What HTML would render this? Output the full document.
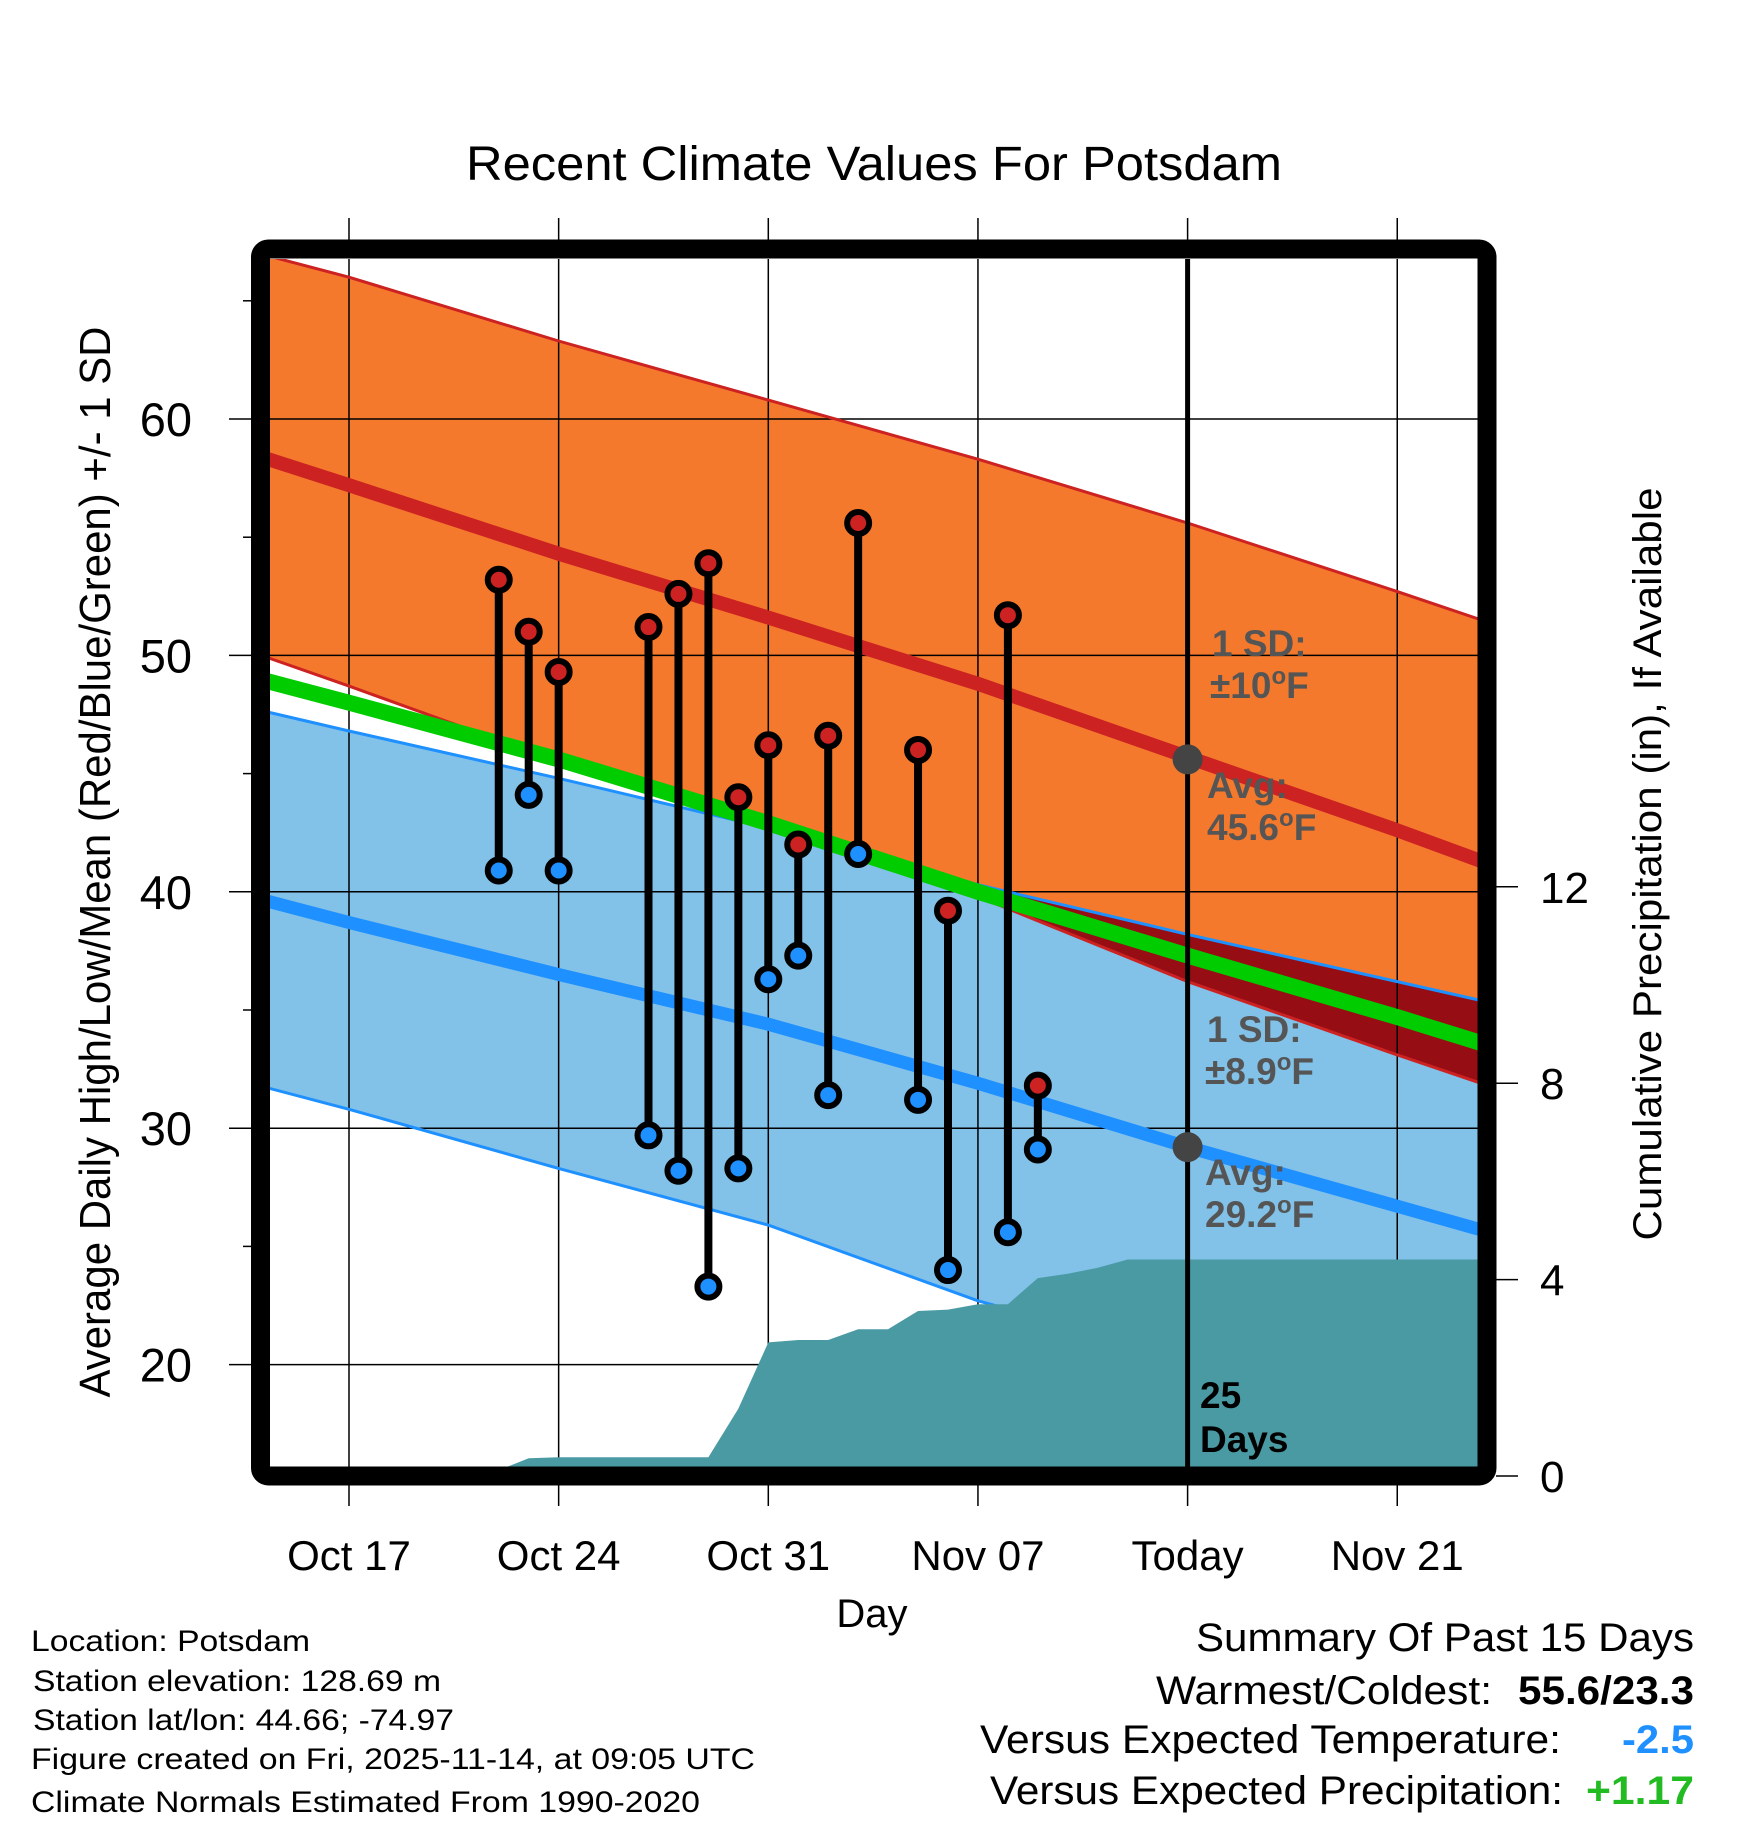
<!DOCTYPE html>
<html><head><meta charset="utf-8">
<style>
html,body{margin:0;padding:0;background:#fff;}
svg{display:block;font-family:"Liberation Sans",sans-serif;}
</style></head>
<body>
<svg id="chart" width="1748" height="1828" viewBox="0 0 1748 1828" xmlns="http://www.w3.org/2000/svg">
<defs>
<clipPath id="plotClip"><rect x="270" y="259" width="1208" height="1208"/></clipPath>
<clipPath id="blueClip"><path id="blueClipPath" d=""/></clipPath>
</defs>
<rect width="1748" height="1828" fill="#fff"/>
<text x="874" y="180" font-size="48" text-anchor="middle" textLength="816" lengthAdjust="spacingAndGlyphs">Recent Climate Values For Potsdam</text>
<g id="plot" clip-path="url(#plotClip)"></g>
<g id="axes"></g>
<rect x="260.5" y="249" width="1226.5" height="1227" rx="8" fill="none" stroke="#000" stroke-width="19"/>
<text transform="translate(110,862) rotate(-90)" font-size="44" text-anchor="middle" textLength="1071" lengthAdjust="spacingAndGlyphs">Average Daily High/Low/Mean (Red/Blue/Green) +/- 1 SD</text>
<text transform="translate(1661,864) rotate(-90)" font-size="40" text-anchor="middle" textLength="753" lengthAdjust="spacingAndGlyphs">Cumulative Precipitation (in), If Available</text>
<text x="872" y="1627" font-size="40" text-anchor="middle">Day</text>
<g font-size="30">
<text x="31" y="1651" textLength="279" lengthAdjust="spacingAndGlyphs">Location: Potsdam</text>
<text x="33" y="1691" textLength="408" lengthAdjust="spacingAndGlyphs">Station elevation: 128.69 m</text>
<text x="33" y="1730" textLength="421" lengthAdjust="spacingAndGlyphs">Station lat/lon: 44.66; -74.97</text>
<text x="31" y="1769" textLength="724" lengthAdjust="spacingAndGlyphs">Figure created on Fri, 2025-11-14, at 09:05 UTC</text>
<text x="31" y="1812" textLength="669" lengthAdjust="spacingAndGlyphs">Climate Normals Estimated From 1990-2020</text>
</g>
<g font-size="40">
<text x="1196" y="1651" textLength="498" lengthAdjust="spacingAndGlyphs">Summary Of Past 15 Days</text>
<text x="1156" y="1704" textLength="336" lengthAdjust="spacingAndGlyphs">Warmest/Coldest:</text>
<text x="1518" y="1704" font-weight="bold" textLength="176" lengthAdjust="spacingAndGlyphs">55.6/23.3</text>
<text x="980" y="1753" textLength="581" lengthAdjust="spacingAndGlyphs">Versus Expected Temperature:</text>
<text x="1622" y="1753" font-weight="bold" fill="#1e90ff" textLength="72" lengthAdjust="spacingAndGlyphs">-2.5</text>
<text x="990" y="1804" textLength="573" lengthAdjust="spacingAndGlyphs">Versus Expected Precipitation:</text>
<text x="1586" y="1804" font-weight="bold" fill="#22bb22" textLength="108" lengthAdjust="spacingAndGlyphs">+1.17</text>
</g>
</svg>
<script>
// ---- data (day index: 0 = Oct 17) ----
const normDays = [-2.7, 0, 7, 14, 21, 28, 35, 37.8];
const hiUpper  = [66.9, 66.0, 63.3, 60.8, 58.3, 55.6, 52.7, 51.5];
const hiMean   = [58.3, 57.2, 54.3, 51.6, 48.8, 45.7, 42.6, 41.3];
const hiLower  = [49.9, 48.7, 45.5, 42.7, 39.8, 36.2, 33.1, 31.9];
const loUpper  = [47.6, 46.8, 44.8, 42.7, 40.3, 38.2, 36.2, 35.4];
const loMean   = [39.6, 38.7, 36.5, 34.4, 31.9, 29.2, 26.7, 25.7];
const loLower  = [31.7, 30.8, 28.3, 25.9, 22.7, 20.3, 17.9, 16.8];
const avgMean  = [48.9, 48.0, 45.6, 42.9, 40.0, 37.3, 34.7, 33.6];
const obsDays  = [5, 6, 7, 10, 11, 12, 13, 14, 15, 16, 17, 19, 20, 22, 23];
const obsHigh  = [53.2, 51.0, 49.3, 51.2, 52.6, 53.9, 44.0, 46.2, 42.0, 46.6, 55.6, 46.0, 39.2, 51.7, 31.8];
const obsLow   = [40.9, 44.1, 40.9, 29.7, 28.2, 23.3, 28.3, 36.3, 37.3, 31.4, 41.6, 31.2, 24.0, 25.6, 29.1];
const precDays = [-2.7, 4.5, 6, 7, 12, 13, 14, 15, 16, 17, 18, 19, 20, 21, 22, 23, 24, 25, 26, 37.8];
const precVals = [0, 0, 0.36, 0.38, 0.38, 1.37, 2.72, 2.77, 2.77, 2.99, 2.99, 3.36, 3.39, 3.5, 3.5, 4.03, 4.12, 4.24, 4.41, 4.41];
const xTickDays = [0, 7, 14, 21, 28, 35];
const xTickLabels = ["Oct 17", "Oct 24", "Oct 31", "Nov 07", "Today", "Nov 21"];
const yTicks = [20, 30, 40, 50, 60];
const yMinor = [25, 35, 45, 55, 65];
const pTicks = [0, 4, 8, 12];
const todayDay = 28;
const todayHi = 45.6, todayLo = 29.2;

// ---- axes ----
const X = d => 349 + 29.95 * d;
const Y = v => 419 + (60 - v) * 23.64;
const P = v => 1476 - v * 49.1;
const NS = "http://www.w3.org/2000/svg";
function mk(tag, attrs, parent) {
  const e = document.createElementNS(NS, tag);
  for (const k in attrs) e.setAttribute(k, attrs[k]);
  parent.appendChild(e); return e;
}
const plot = document.getElementById('plot');
const axes = document.getElementById('axes');
function linePath(days, vals, sc) { return days.map((d, i) => (i ? 'L' : 'M') + X(d).toFixed(1) + ' ' + sc(vals[i]).toFixed(1)).join(' '); }
function bandPath(days, top, bot) {
  let s = linePath(days, top, Y);
  for (let i = days.length - 1; i >= 0; i--) s += ' L' + X(days[i]).toFixed(1) + ' ' + Y(bot[i]).toFixed(1);
  return s + ' Z';
}
let e;
e = mk('path', {d: bandPath(normDays, hiUpper, hiLower), fill: '#f5792d'}, plot);


e = mk('path', {d: bandPath(normDays, loUpper, loLower), fill: '#82c1e8'}, plot);


document.getElementById('blueClipPath').setAttribute('d', bandPath(normDays, loUpper, loLower));
e = mk('path', {d: bandPath(normDays, hiUpper, hiLower), fill: '#960e14', 'clip-path': 'url(#blueClip)'}, plot);


xTickDays.forEach(d => { mk('line', {x1: X(d), x2: X(d), y1: 259, y2: 1467, stroke: '#000', 'stroke-width': 1.5}, plot); });
yTicks.forEach(v => { mk('line', {x1: 270, x2: 1478, y1: Y(v), y2: Y(v), stroke: '#000', 'stroke-width': 1.5}, plot); });
[[hiUpper, '#cc2222'], [hiLower, '#cc2222'], [loUpper, '#1e90ff'], [loLower, '#1e90ff']].forEach(([arr, c]) => {
  const l = mk('path', {d: linePath(normDays, arr, Y), fill: 'none', stroke: c, 'stroke-width': 3}, plot);
  
  
});
e = mk('path', {d: linePath(normDays, hiMean, Y), fill: 'none', stroke: '#cc2222', 'stroke-width': 14}, plot);


e = mk('path', {d: linePath(normDays, loMean, Y), fill: 'none', stroke: '#1e90ff', 'stroke-width': 13}, plot);


e = mk('path', {d: linePath(normDays, avgMean, Y), fill: 'none', stroke: '#00cc00', 'stroke-width': 16}, plot);


let pp = linePath(precDays, precVals, P) + ' L' + X(precDays[precDays.length - 1]) + ' 1480 L' + X(precDays[0]) + ' 1480 Z';
e = mk('path', {d: pp, fill: '#4a9aa4'}, plot);


e = mk('line', {x1: X(todayDay), x2: X(todayDay), y1: 259, y2: 1467, stroke: '#000', 'stroke-width': 5}, plot);


obsDays.forEach((d, i) => {
  const g = mk('g', {}, plot);
  
  
  mk('line', {x1: X(d), x2: X(d), y1: Y(obsHigh[i]), y2: Y(obsLow[i]), stroke: '#000', 'stroke-width': 8}, g);
  const h = mk('circle', {cx: X(d), cy: Y(obsHigh[i]), r: 11, fill: '#cc2222', stroke: '#000', 'stroke-width': 6}, g);
  
  
  const lw = mk('circle', {cx: X(d), cy: Y(obsLow[i]), r: 11, fill: '#1e90ff', stroke: '#000', 'stroke-width': 6}, g);
  
  
});
e = mk('circle', {cx: X(todayDay), cy: Y(todayHi), r: 15, fill: '#444'}, plot);


e = mk('circle', {cx: X(todayDay), cy: Y(todayLo), r: 15, fill: '#444'}, plot);


const ann = [
  ['1 SD:', '', 1212, 656, '#555'], ['±10', 'F', 1210, 698, '#555'],
  ['Avg:', '', 1207, 798, '#555'], ['45.6', 'F', 1207, 840, '#555'],
  ['1 SD:', '', 1207, 1042, '#555'], ['±8.9', 'F', 1205, 1084, '#555'],
  ['Avg:', '', 1205, 1185, '#555'], ['29.2', 'F', 1205, 1227, '#555'],
  ['25', '', 1200, 1408, '#000'], ['Days', '', 1200, 1452, '#000']
];
ann.forEach(a => {
  const t = mk('text', {x: a[2], y: a[3], fill: a[4], 'font-size': 37, 'font-weight': 'bold'}, plot);
  
  
  t.appendChild(document.createTextNode(a[0]));
  if (a[1]) {
    const s = mk('tspan', {'font-size': 24, dy: -14}, t); s.textContent = 'o';
    const f = mk('tspan', {'font-size': 37, dy: 14}, t); f.textContent = a[1];
  }
});
xTickDays.forEach((d, i) => {
  mk('line', {x1: X(d), x2: X(d), y1: 218, y2: 241, stroke: '#000', 'stroke-width': 1.5}, axes);
  mk('line', {x1: X(d), x2: X(d), y1: 1484, y2: 1506, stroke: '#000', 'stroke-width': 1.5}, axes);
  const t = mk('text', {x: X(d), y: 1570, 'font-size': 42, 'text-anchor': 'middle'}, axes);
  t.textContent = xTickLabels[i];
  
  
});
yTicks.forEach(v => {
  mk('line', {x1: 229, x2: 252, y1: Y(v), y2: Y(v), stroke: '#000', 'stroke-width': 1.5}, axes);
  const t = mk('text', {x: 192, y: Y(v) + 17, 'font-size': 47, 'text-anchor': 'end'}, axes);
  t.textContent = v;
  
  
});
yMinor.forEach(v => { mk('line', {x1: 243, x2: 252, y1: Y(v), y2: Y(v), stroke: '#000', 'stroke-width': 1.5}, axes); });
pTicks.forEach(v => {
  mk('line', {x1: 1496, x2: 1518, y1: P(v), y2: P(v), stroke: '#000', 'stroke-width': 1.5}, axes);
  const t = mk('text', {x: 1540, y: P(v) + 16, 'font-size': 44}, axes);
  t.textContent = v;
  
  
});
</script>
</body></html>
